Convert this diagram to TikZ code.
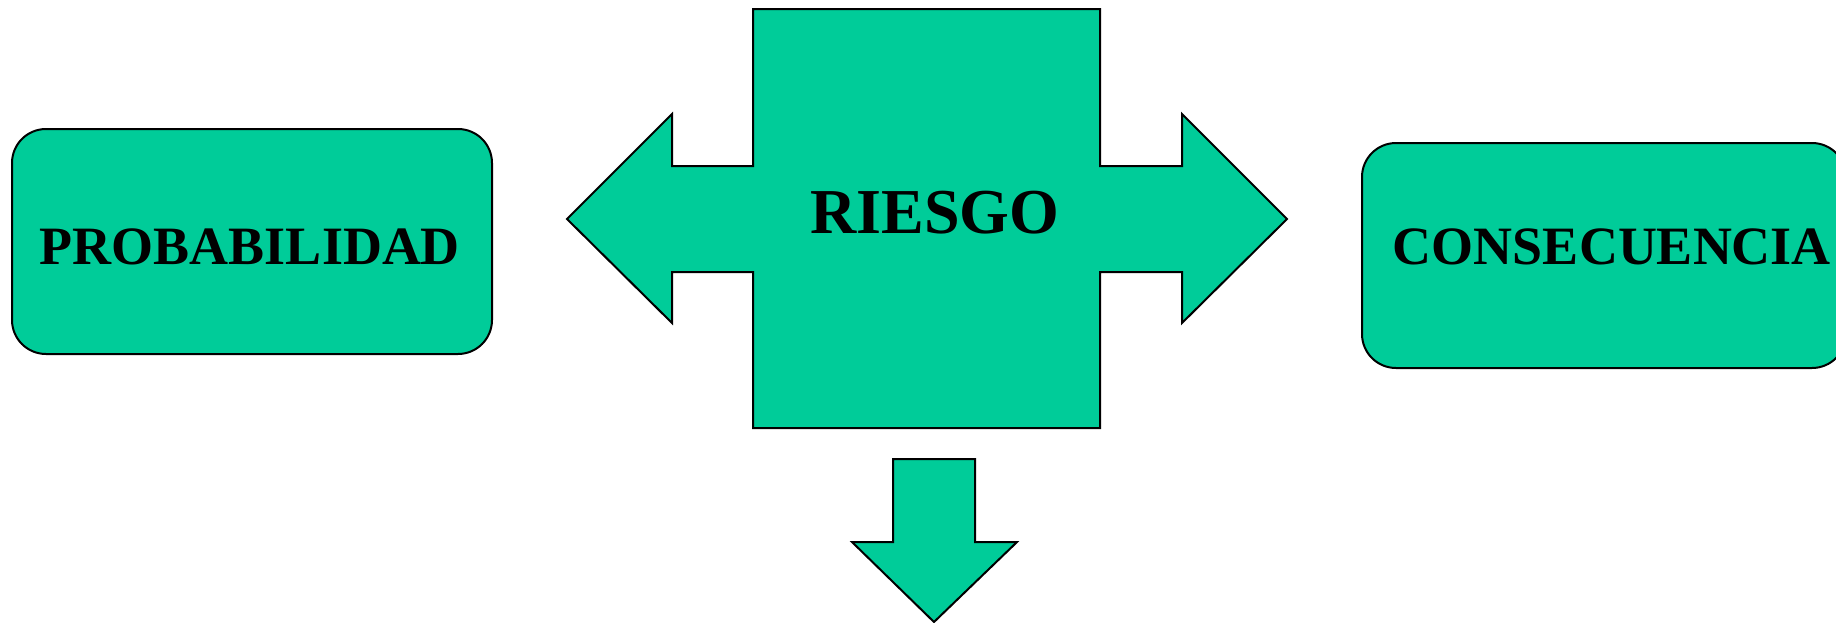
\documentclass[tikz,border=0pt]{standalone}
\usepackage{fontspec}
\setmainfont{Liberation Serif}
\usepackage{tikz}
\usetikzlibrary{positioning}
\definecolor{riskgreen}{RGB}{0,204,153}

\begin{document}
\begin{tikzpicture}[
    x=0.5pt, y=-0.5pt,
    factor/.style={rectangle,rounded corners=17pt,draw,line width=1pt,fill=riskgreen,
      minimum height=112.5pt,inner sep=0pt},
    factorlabel/.style={inner sep=0pt,font=\fontsize{27}{32}\selectfont\bfseries},
    block/.style={draw,line width=1pt,fill=riskgreen,line join=miter},
  ]
  \useasboundingbox (0,0) rectangle (1836,622);

  %% Factors
  \node[factor,minimum width=240pt] (prob) at (252,241.5) {};
  \node[factorlabel] (probtext) at (250,247) {PROBABILIDAD};

  \node[factor,minimum width=242pt] (cons) at (1604,255.5) {};
  \node[factorlabel] (constext) at (1612,247) {CONSECUENCIA};

  %% Risk cross (double arrow over a block)
  \draw[block] (753,9) -- (1100,9) -- (1100,166) -- (1182,166) -- (1182,114)
    -- (1287,219) -- (1182,323) -- (1182,272) -- (1100,272) -- (1100,428)
    -- (753,428) -- (753,272) -- (672,272) -- (672,323) -- (567,219)
    -- (672,114) -- (672,166) -- (753,166) -- cycle;
  \node[factorlabel,font=\fontsize{32}{38}\selectfont\bfseries] (riesgo) at (935,213) {RIESGO};

  %% Down arrow
  \draw[block] (893,459) -- (975,459) -- (975,542) -- (1017,542) -- (934,622)
    -- (852,542) -- (893,542) -- cycle;
\end{tikzpicture}
\end{document}
